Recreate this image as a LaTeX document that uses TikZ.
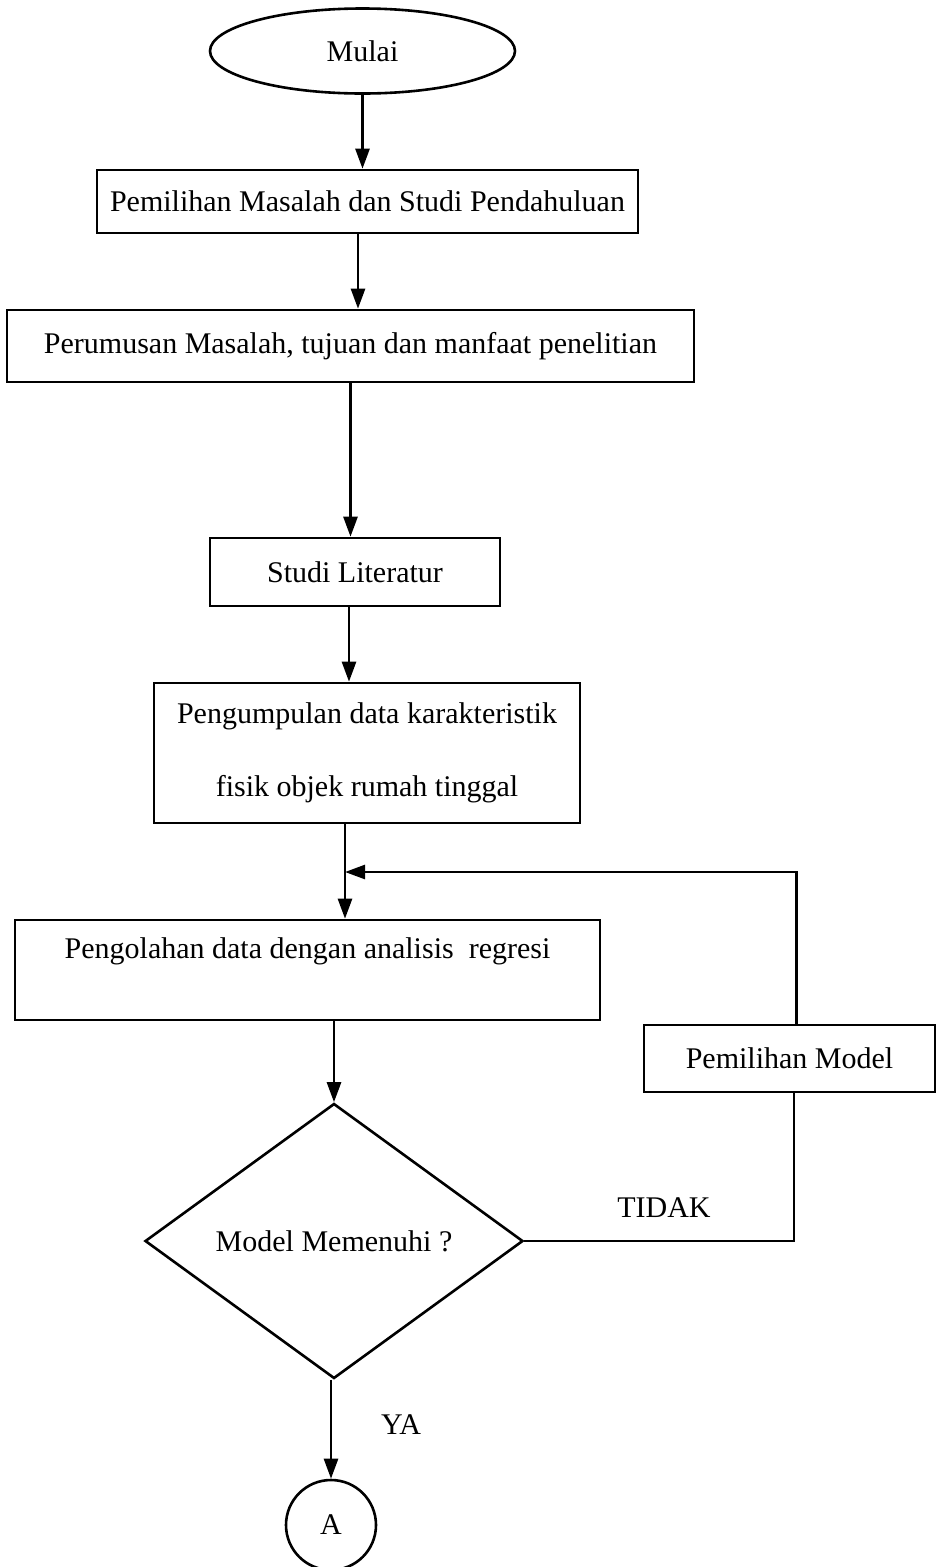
\documentclass[tikz,border=0pt]{standalone}
\usepackage{fontspec}
\setmainfont{Liberation Serif}
\usetikzlibrary{shapes.geometric,arrows.meta,calc}
\begin{document}
\begin{tikzpicture}[x=1pt,y=-1pt,
  every node/.style={font=\fontsize{30}{36}\selectfont},
  procbox/.style={draw,line width=2.6pt,rectangle,inner sep=0pt},
  termnode/.style={draw,line width=2.6pt,ellipse,inner sep=0pt,minimum width=305pt,minimum height=85pt},
  decnode/.style={draw,line width=2.6pt,diamond,inner sep=0pt,aspect=1.37,minimum width=378pt,minimum height=275pt},
  connnode/.style={draw,line width=2.6pt,circle,inner sep=0pt,minimum size=90pt},
  arr/.style={line width=2.6pt,-{Triangle[length=20pt,width=14pt]}},
  plain/.style={line width=2.6pt}]
\useasboundingbox (0,0) rectangle (936,1567);
\node[termnode] (m) at (362.5,51) {Mulai};
\node[procbox,minimum width=541pt,minimum height=63pt] (b1) at (367.5,201.5) {Pemilihan Masalah dan Studi Pendahuluan};
\node[procbox,minimum width=687pt,minimum height=72pt] (b2) at (350.5,346) {Perumusan Masalah, tujuan dan manfaat penelitian};
\node[procbox,minimum width=290pt,minimum height=68pt] (b3) at (355,572) {Studi Literatur};
\node[procbox,minimum width=426pt,minimum height=140pt,align=center,font=\fontsize{30}{73}\selectfont] (b4) at (367,753) {Pengumpulan data karakteristik\\fisik objek rumah tinggal};
\node[procbox,minimum width=585pt,minimum height=100pt,label={[anchor=center,yshift=-33pt]north:{Pengolahan data dengan analisis\ \ regresi}}] (b5) at (307.5,970) {};
\node[procbox,minimum width=291pt,minimum height=67pt] (b6) at (789.5,1058.5) {Pemilihan Model};
\node[decnode] (d) at (334,1241) {Model Memenuhi ?};
\node[connnode] (c) at (331,1525) {A};
\node (tidak) at (664,1208) {TIDAK};
\node (ya) at (401,1425) {YA};
\coordinate (j) at (345,872);
\draw[arr] (m.south) -- (m.south |- b1.north);
\draw[arr] ([xshift=-9.5pt]b1.south) -- ([xshift=-9.5pt]b1.south |- b2.north);
\draw[arr] (b2.south) -- (b2.south |- b3.north);
\draw[arr] ([xshift=-6pt]b3.south) -- ([xshift=-6pt]b3.south |- b4.north);
\draw[arr] ([xshift=-22pt]b4.south) -- ([xshift=-22pt]b4.south |- b5.north);
\draw[arr] ([xshift=7pt]b6.north) |- (j);
\draw[arr] (d.north |- b5.south) -- (d.north);
\draw[plain] (d.east) -| ([xshift=4.5pt]b6.south);
\draw[arr] (c.north |- d.south) -- (c.north);
\end{tikzpicture}
\end{document}
